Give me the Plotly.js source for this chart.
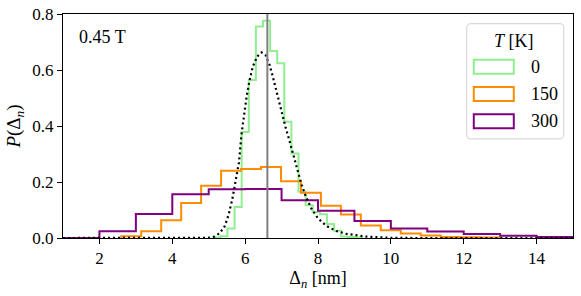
<!DOCTYPE html>
<html>
<head>
<meta charset="utf-8">
<script src="https://cdn.plot.ly/plotly-3.0.1.min.js"></script>
<style>html,body{margin:0;padding:0;background:#fff;}#plot{width:581px;height:296px;}</style>
</head>
<body>
<div id="plot"></div>
<script>
// ---- data ----
const tempLabels = ["0", "150", "300"];
const seriesColors = ["#90ee90", "#ff8c00", "#800080"];

// T = 0 K histogram (density)
const greenStart = 5.125;
const greenWidth = 0.195;
const greenValues = [0.002, 0.006, 0.034, 0.111, 0.379, 0.564, 0.755, 0.776, 0.668, 0.624,
                     0.415, 0.302, 0.165, 0.117, 0.093, 0.085, 0.050, 0.026, 0.005, 0.004, 0.002];

// T = 150 K histogram
const orangeStart = 2.60;
const orangeWidth = 0.548;
const orangeValues = [0.006, 0.024, 0.063, 0.125, 0.187, 0.240, 0.246, 0.254, 0.203, 0.162,
                      0.115, 0.084, 0.045, 0.028, 0.016, 0.009, 0.004, 0.003, 0.002];

// T = 300 K histogram
const purpleStart = 0;
const purpleWidth = 1.0;
const purpleValues = [0, 0, 0.024, 0.086, 0.156, 0.174, 0.175, 0.135, 0.097, 0.061,
                      0.034, 0.023, 0.014, 0.008, 0.004];

// dotted model curve
const curveX = [1, 4, 5.0, 5.15, 5.30, 5.44, 5.55, 5.65, 5.75, 5.83, 5.90, 5.97, 6.04, 6.12, 6.21,
                6.33, 6.45, 6.56, 6.67, 6.76, 6.85, 6.94, 7.03, 7.11, 7.20, 7.28, 7.37, 7.46, 7.55,
                7.67, 7.82, 8.00, 8.23, 8.50, 8.78, 9.30, 9.90, 10.6, 15];
const curveY = [0, 0, 0.001, 0.005, 0.017, 0.042, 0.085, 0.14, 0.205, 0.27, 0.37, 0.44, 0.505, 0.562, 0.612,
                0.648, 0.663, 0.653, 0.618, 0.576, 0.528, 0.481, 0.433, 0.395, 0.355, 0.318, 0.275, 0.23, 0.19,
                0.147, 0.105, 0.07, 0.043, 0.025, 0.015, 0.005, 0.001, 0, 0];

// vertical reference line
const meanDelta = 6.61;

const xTicks = [2, 4, 6, 8, 10, 12, 14];
const yTicks = [0.0, 0.2, 0.4, 0.6, 0.8];
const yTickText = ["0.0", "0.2", "0.4", "0.6", "0.8"];
const panelLabel = "0.45 T";

// ---- build step traces ----
function stepTrace(start, width, values, color) {
  const xs = [start], ys = [0];
  for (let i = 0; i < values.length; i++) {
    xs.push(start + i * width);
    ys.push(values[i]);
  }
  const end = start + values.length * width;
  xs.push(end); ys.push(values[values.length - 1]);
  xs.push(end); ys.push(0);
  return {x: xs, y: ys, type: 'scatter', mode: 'lines',
          line: {shape: 'hv', color: color, width: 2}, showlegend: false, hoverinfo: 'skip'};
}

const traces = [
  stepTrace(greenStart, greenWidth, greenValues, seriesColors[0]),
  stepTrace(orangeStart, orangeWidth, orangeValues, seriesColors[1]),
  stepTrace(purpleStart, purpleWidth, purpleValues, seriesColors[2]),
  {x: curveX, y: curveY, type: 'scatter', mode: 'lines',
   line: {color: '#000', width: 2.2, dash: '2px,3px'}, showlegend: false, hoverinfo: 'skip'}
];

// ---- layout (pixel helpers for the hand-made legend) ----
const L = 63.3, R = 573.2, T = 14.3, B = 238;
const px = v => (v - L) / (R - L);
const py = v => (B - v) / (B - T);
const serif = "Liberation Serif";

const shapes = [
  {type: 'line', xref: 'x', yref: 'paper', x0: meanDelta, x1: meanDelta, y0: 0, y1: 1,
   line: {color: '#808080', width: 2}}
];
// legend frame with rounded corners
(function () {
  const x0 = px(467), x1 = px(564), y0 = py(139), y1 = py(24);
  const rx = 4 / (R - L), ry = 4 / (B - T);
  const path = `M ${x0 + rx} ${y1} L ${x1 - rx} ${y1} Q ${x1} ${y1} ${x1} ${y1 - ry} L ${x1} ${y0 + ry} Q ${x1} ${y0} ${x1 - rx} ${y0} L ${x0 + rx} ${y0} Q ${x0} ${y0} ${x0} ${y0 + ry} L ${x0} ${y1 - ry} Q ${x0} ${y1} ${x0 + rx} ${y1} Z`;
  shapes.push({type: 'path', xref: 'paper', yref: 'paper', path: path,
               line: {color: '#d0d0d0', width: 1}, fillcolor: 'rgba(255,255,255,0.8)'});
})();
const patchTops = [60, 87.3, 114.3];
const annotations = [
  {xref: 'paper', yref: 'paper', x: px(77.5), y: py(37), xanchor: 'left', yanchor: 'middle',
   text: panelLabel, showarrow: false, font: {family: serif, size: 18, color: '#000'}},
  {xref: 'paper', yref: 'paper', x: px(514.5), y: py(41.5), xanchor: 'center', yanchor: 'middle',
   text: '<i>T</i> [K]', showarrow: false, font: {family: serif, size: 18, color: '#000'}}
];
for (let i = 0; i < tempLabels.length; i++) {
  shapes.push({type: 'rect', xref: 'paper', yref: 'paper',
               x0: px(474), x1: px(514), y0: py(patchTops[i] + 14), y1: py(patchTops[i]),
               line: {color: seriesColors[i], width: 2}, fillcolor: 'rgba(0,0,0,0)'});
  annotations.push({xref: 'paper', yref: 'paper', x: px(529), y: py(patchTops[i] + 7),
                    xanchor: 'left', yanchor: 'middle', text: tempLabels[i], showarrow: false,
                    font: {family: serif, size: 18, color: '#000'}});
}

const layout = {
  width: 581, height: 296,
  margin: {l: L, r: 581 - R, t: T, b: 296 - B, pad: 0},
  paper_bgcolor: '#fff', plot_bgcolor: '#fff',
  font: {family: serif, size: 17, color: '#000'},
  xaxis: {range: [1, 15], tickvals: xTicks, ticktext: xTicks.map(String),
          showgrid: false, zeroline: false, showline: true, mirror: true, linecolor: '#000', linewidth: 1,
          ticks: 'outside', ticklen: 5, tickcolor: '#000', tickfont: {family: serif, size: 17, color: '#000'},
          title: {text: 'Δ<sub><i>n</i></sub> [nm]', font: {family: serif, size: 18, color: '#000'}, standoff: 1},
          automargin: false},
  yaxis: {range: [0, 0.8], tickvals: yTicks, ticktext: yTickText,
          showgrid: false, zeroline: false, showline: true, mirror: true, linecolor: '#000', linewidth: 1,
          ticks: 'outside', ticklen: 5, tickcolor: '#000', tickfont: {family: serif, size: 17, color: '#000'},
          title: {text: '<i>P</i>(Δ<sub><i>n</i></sub>)', font: {family: serif, size: 19, color: '#000'}, standoff: 6},
          automargin: false},
  shapes: shapes,
  annotations: annotations,
  showlegend: false
};

Plotly.newPlot('plot', traces, layout, {displayModeBar: false, staticPlot: true});
</script>
</body>
</html>
